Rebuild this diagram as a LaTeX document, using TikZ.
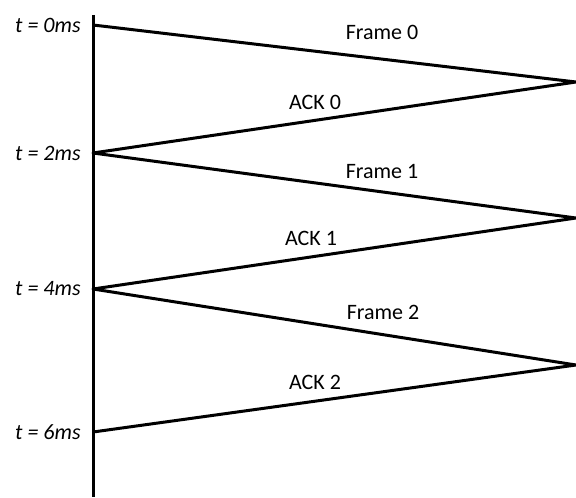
\documentclass[tikz,border=0pt]{standalone}
\usepackage{fontspec}
\setmainfont{Carlito}
\begin{document}
\begin{tikzpicture}[x = 0.5pt, y = -0.5pt]
            \tikzset{
                signal/.style = {line width = 1.5pt, line join = round},
                msg/.style = {font = \fontsize{11}{13}\selectfont, inner sep = 0pt},
                stamp/.style = {msg, font = \fontsize{11}{13}\selectfont\itshape, anchor = east}
            }
            \useasboundingbox (0, 0) rectangle (576, 497);

            % sender side, one stamp every 2ms
            \foreach \n/\y in {0/25, 2/153, 4/289, 6/432}{
                \coordinate (s\n) at (93, \y);
                \node[stamp] (t\n) at (81, \y) {t = \n ms};
            }
            % receiver side
            \foreach \n/\y in {0/82, 1/218, 2/365}{
                \coordinate (r\n) at (576, \y);
            }

            \coordinate (top) at (93, 15);
            \coordinate (bottom) at (93, 497);
            \draw[signal] (top) -- (bottom);

            \draw[signal] (s0) -- (r0) -- (s2) -- (r1) -- (s4) -- (r2) -- (s6);

            \node[msg] (frame0) at (382, 32) {Frame 0};
            \node[msg] (ack0) at (315, 102) {ACK 0};
            \node[msg] (frame1) at (382, 172) {Frame 1};
            \node[msg] (ack1) at (311, 238) {ACK 1};
            \node[msg] (frame2) at (383, 312) {Frame 2};
            \node[msg] (ack2) at (315, 382) {ACK 2};
        \end{tikzpicture}
\end{document}
